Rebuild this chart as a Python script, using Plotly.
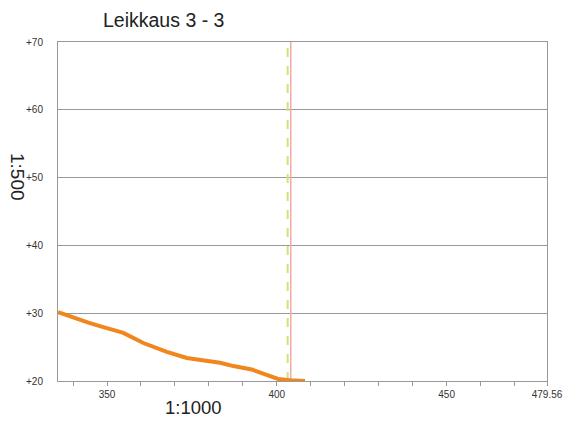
import plotly.graph_objects as go

# Ground profile (distance, elevation)
profile_x = [335.56, 343.0, 344.5, 347.9, 354.8, 360.7, 367.6, 373.5, 383.3, 387.2, 392.6, 397.0, 400.4, 403.9, 408.3]
profile_y = [30.15, 28.75, 28.6, 28.1, 27.1, 25.6, 24.3, 23.4, 22.7, 22.2, 21.7, 20.9, 20.3, 20.1, 20.0]

# Vertical reference lines
solid_line_x = 404.1
dashed_line_x = 403.2

x_range = [335.56, 479.56]
y_range = [20, 70]
x_minor_ticks = [340, 350, 360, 370, 380, 390, 400, 410, 420, 430, 440, 450, 460, 470, 479.56]
x_tick_labels = {350: "350", 400: "400", 450: "450", 479.56: "479.56"}
y_ticks = [20, 30, 40, 50, 60, 70]
y_tick_text = ["+20", "+30", "+40", "+50", "+60", "+70"]

L, R, T, B = 58, 17, 42, 42
W, H = 564, 423
pw, ph = W - L - R, H - T - B


def px2paper(x, y):
    return (x - L) / pw, 1 - (y - T) / ph


fig = go.Figure()
fig.add_trace(go.Scatter(x=[solid_line_x, solid_line_x], y=y_range, mode="lines",
                         line=dict(color="#f4aaa4", width=1.5), hoverinfo="skip"))
fig.add_trace(go.Scatter(x=[dashed_line_x, dashed_line_x], y=y_range, mode="lines",
                         line=dict(color="#d4e07a", width=2, dash="dash"), hoverinfo="skip"))
fig.add_trace(go.Scatter(x=profile_x, y=profile_y, mode="lines",
                         line=dict(color="#f0861c", width=4), hoverinfo="skip"))

anns = []
for text, (x, y), size, angle in [
    ("Leikkaus 3 - 3", (163, 19.5), 19.5, 0),
    ("1:1000", (193, 408), 18.5, 0),
    ("1:500", (17, 177), 19, 90),
]:
    ax, ay = px2paper(x, y)
    anns.append(dict(text=text, x=ax, y=ay, xref="paper", yref="paper", showarrow=False,
                     xanchor="center", yanchor="middle", textangle=angle,
                     font=dict(size=size, color="#222222")))

fig.update_layout(
    width=W, height=H,
    margin=dict(l=L, r=R, t=T, b=B, autoexpand=False),
    paper_bgcolor="white", plot_bgcolor="white",
    showlegend=False,
    font=dict(family="Liberation Sans, Arial, sans-serif", color="#333333"),
    xaxis=dict(range=x_range, tickmode="array", tickvals=x_minor_ticks,
               ticktext=[x_tick_labels.get(v, "") for v in x_minor_ticks],
               ticks="outside", ticklen=4, tickcolor="#999999", tickfont=dict(size=10),
               showgrid=False, zeroline=False, showline=True, linecolor="#999999",
               linewidth=1, mirror=True, automargin=False),
    yaxis=dict(range=y_range, tickmode="array", tickvals=y_ticks, ticktext=y_tick_text,
               ticks="", tickfont=dict(size=10), ticklabelstandoff=12,
               showgrid=True, gridcolor="#999999", gridwidth=1, zeroline=False,
               showline=True, linecolor="#999999", linewidth=1, mirror=True, automargin=False),
    annotations=anns,
)
fig.write_html("out.html", config={"displayModeBar": False},
               post_script="document.body.style.margin='0';document.body.style.overflow='hidden';")
